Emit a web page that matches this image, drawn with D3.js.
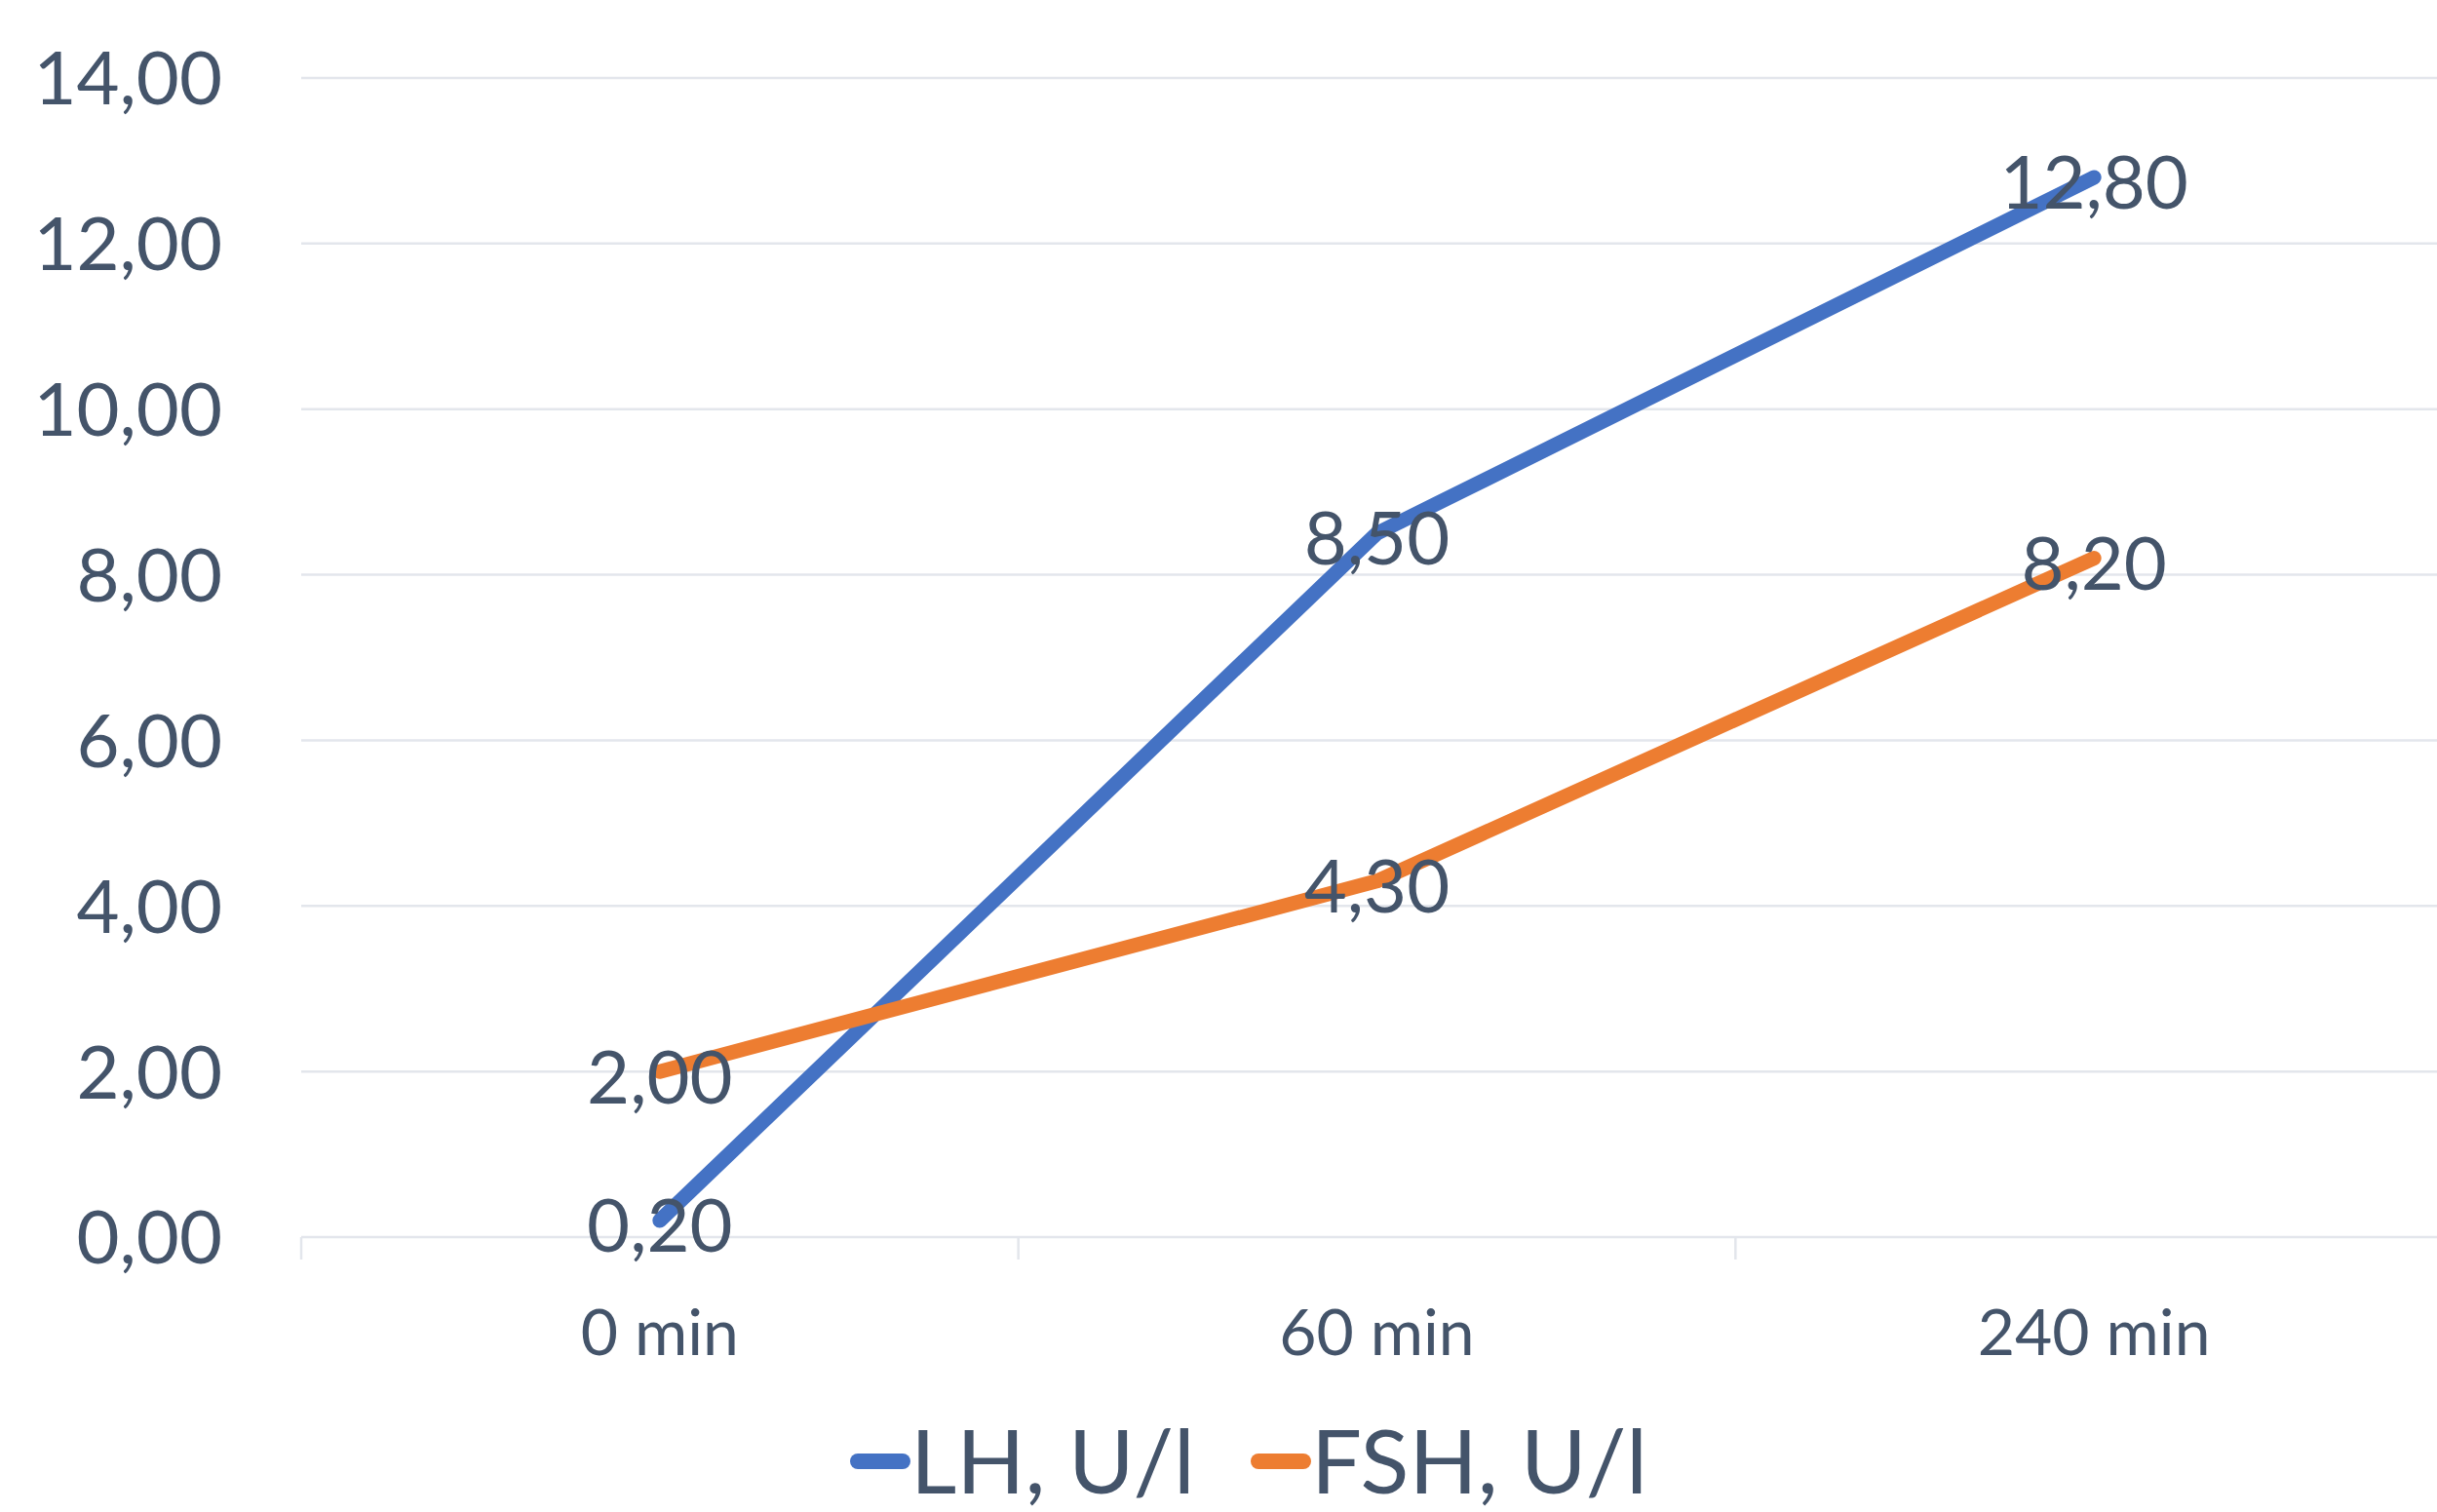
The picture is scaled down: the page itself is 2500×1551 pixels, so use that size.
<!DOCTYPE html>
<html>
<head>
<meta charset="utf-8">
<script src="https://cdn.jsdelivr.net/npm/d3@7"></script>
<style>
  html, body { margin: 0; padding: 0; background: #ffffff; }
  svg { display: block; }
  text { font-family: Lato, "Open Sans", sans-serif; fill: #44546A; }
</style>
</head>
<body>
<svg id="chart" width="2500" height="1551"></svg>
<script>
// Sampling times and hormone levels
const categories = ["0 min", "60 min", "240 min"];
const lhValues = [0.20, 8.50, 12.80];
const fshValues = [2.00, 4.30, 8.20];
const seriesNames = ["LH, U/l", "FSH, U/l"];
const yTicks = [0, 2, 4, 6, 8, 10, 12, 14];

const series = [
  { name: seriesNames[0], values: lhValues, color: "#4472C4" },
  { name: seriesNames[1], values: fshValues, color: "#ED7D31" }
];

const W = 2500, H = 1551;
const plot = { left: 309, right: 2516, top: 80, bottom: 1269 };

const svg = d3.select("#chart");

const locale = d3.formatLocale({ decimal: ",", thousands: ".", grouping: [3], currency: ["", ""] });
const fmt = locale.format(".2f");

const x = d3.scaleBand().domain(categories).range([plot.left, plot.right]).padding(0);
const y = d3.scaleLinear().domain([0, 14]).range([plot.bottom, plot.top]);
const cx = d => x(d) + x.bandwidth() / 2;

// horizontal gridlines
svg.append("g")
  .selectAll("line")
  .data(yTicks.filter(t => t > 0))
  .join("line")
  .attr("x1", plot.left).attr("x2", W)
  .attr("y1", d => y(d)).attr("y2", d => y(d))
  .attr("stroke", "#E3E6EC").attr("stroke-width", 2.5);

// y axis labels
const yFont = 76;
svg.append("g")
  .selectAll("text")
  .data(yTicks)
  .join("text")
  .attr("x", 228)
  .attr("y", d => y(d) + 0.36 * yFont)
  .attr("text-anchor", "end")
  .attr("font-size", yFont)
  .text(d => fmt(d));

// category axis: baseline and boundary ticks
const xAxis = d3.axisBottom(x).tickSize(0).tickFormat("");
const xg = svg.append("g").attr("transform", `translate(0,${plot.bottom})`).call(xAxis);
xg.select(".domain").remove();
xg.selectAll(".tick").remove();
xg.append("line")
  .attr("x1", plot.left).attr("x2", W)
  .attr("y1", 0).attr("y2", 0)
  .attr("stroke", "#E3E6EC").attr("stroke-width", 2.5);
const boundaries = categories.map(c => x(c)).concat([x(categories[categories.length - 1]) + x.bandwidth()]);
xg.selectAll("line.bnd")
  .data(boundaries)
  .join("line")
  .attr("class", "bnd")
  .attr("x1", d => d).attr("x2", d => d)
  .attr("y1", 0).attr("y2", 23)
  .attr("stroke", "#E3E6EC").attr("stroke-width", 2.5);

const xFont = 66;
svg.append("g")
  .selectAll("text")
  .data(categories)
  .join("text")
  .attr("x", d => cx(d))
  .attr("y", 1366 + 0.36 * xFont)
  .attr("text-anchor", "middle")
  .attr("font-size", xFont)
  .text(d => d);

// series lines
const line = d3.line()
  .x((d, i) => cx(categories[i]))
  .y(d => y(d));

svg.append("g")
  .selectAll("path")
  .data(series)
  .join("path")
  .attr("d", s => line(s.values))
  .attr("fill", "none")
  .attr("stroke", s => s.color)
  .attr("stroke-width", 15)
  .attr("stroke-linecap", "round")
  .attr("stroke-linejoin", "round");

// value labels centred on each point
const lblFont = 76;
series.forEach(s => {
  svg.append("g")
    .selectAll("text")
    .data(s.values)
    .join("text")
    .attr("x", (d, i) => cx(categories[i]))
    .attr("y", d => y(d) + 5 + 0.36 * lblFont)
    .attr("text-anchor", "middle")
    .attr("font-size", lblFont)
    .text(d => fmt(d));
});

// legend
const legFont = 92;
const legendY = 1499;
const legendItems = [
  { s: series[0], x0: 872 },
  { s: series[1], x0: 1283 }
];
const lg = svg.append("g");
legendItems.forEach(item => {
  lg.append("line")
    .attr("x1", item.x0 + 8).attr("x2", item.x0 + 54)
    .attr("y1", legendY).attr("y2", legendY)
    .attr("stroke", item.s.color)
    .attr("stroke-width", 16)
    .attr("stroke-linecap", "round");
  lg.append("text")
    .attr("x", item.x0 + 62)
    .attr("y", legendY + 0.36 * legFont)
    .attr("font-size", legFont)
    .text(item.s.name);
});
</script>
</body>
</html>
